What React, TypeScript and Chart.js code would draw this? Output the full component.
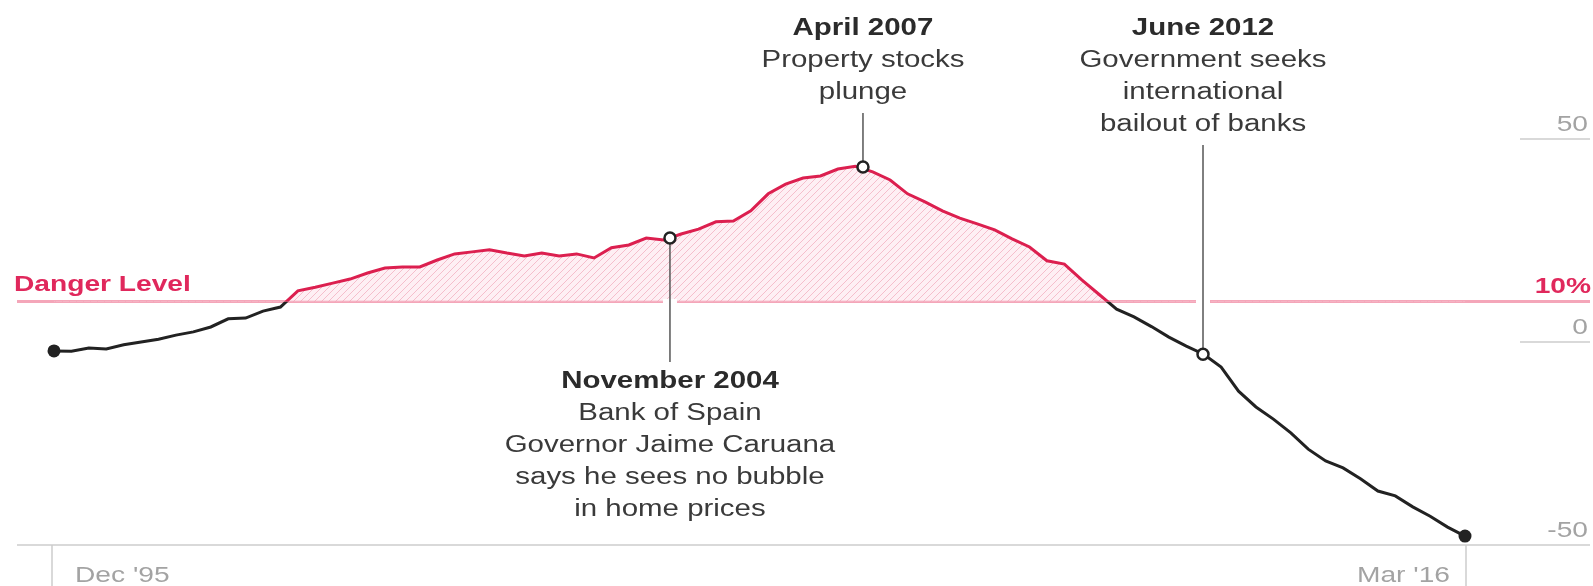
import React, { useEffect, useRef } from 'react';
import { Chart, registerables } from 'chart.js';

Chart.register(...registerables);

// ---- Data (quarterly, Dec '95 .. Mar '16), percent ----
const START_YEAR = 1995.917; // Dec 1995
const VALUES = [
  -2.2, -2.3, -1.5, -1.7, -0.7, 0, 0.7, 1.7, 2.5, 3.7,
  5.7, 5.9, 7.6, 8.6, 12.6, 13.5, 14.5, 15.5, 17.0, 18.2,
  18.5, 18.5, 20.2, 21.7, 22.2, 22.7, 21.9, 21.2, 21.9, 21.2,
  21.7, 20.7, 23.2, 23.9, 25.6, 25.1, 26.6, 27.8, 29.6, 29.8,
  32.3, 36.5, 38.9, 40.4, 40.9, 42.6, 43.3, 41.9, 39.9, 36.5,
  34.5, 32.3, 30.5, 29.1, 27.6, 25.4, 23.4, 20.0, 19.2, 15.3,
  11.7, 8.1, 6.2, 3.8, 1.2, -1.0, -3.0, -6.2, -12.1, -16.0,
  -19.0, -22.4, -26.4, -29.3, -31.0, -33.7, -36.7, -37.9, -40.6, -42.9,
  -45.6, -47.8,
];
const X_LABELS = ["Dec '95", "Mar '16"];
const Y_TICKS = [50, 0, -50];
const DANGER = 10;
const DANGER_LABEL = 'Danger Level';
const DANGER_TICK = '10%';

const EVENT_X = [2004.757, 2007.527, 2012.407];
const EVENT_Y = [25.6, 43.1, -3.0];
const EVENT_TITLES = ['November 2004', 'April 2007', 'June 2012'];
const EVENT_TEXT = [
  ['Bank of Spain', 'Governor Jaime Caruana', 'says he sees no bubble', 'in home prices'],
  ['Property stocks', 'plunge'],
  ['Government seeks', 'international', 'bailout of banks'],
];
const EVENT_BELOW = [true, false, false];

// ---- styles ----
const FONT = '"Liberation Sans", Arial, Helvetica, sans-serif';
const SX = 1.28;
const RED = '#dc1f4f';
const DARK = '#222222';
const PINK_LINE = '#f4a6b9';
const GRID = '#cccccc';
const AXIS_TXT = '#a3a3a3';

function txt(ctx: CanvasRenderingContext2D, s: string, x: number, y: number, align: CanvasTextAlign, font: string, color: string) {
  ctx.save();
  ctx.font = font;
  ctx.fillStyle = color;
  ctx.textAlign = align;
  ctx.textBaseline = 'alphabetic';
  ctx.translate(x, y);
  ctx.scale(SX, 1);
  ctx.fillText(s, 0, 0);
  ctx.restore();
}

function hline(ctx: CanvasRenderingContext2D, x1: number, x2: number, y: number, color: string, w: number) {
  ctx.save();
  ctx.strokeStyle = color;
  ctx.lineWidth = w;
  ctx.beginPath();
  ctx.moveTo(x1, y);
  ctx.lineTo(x2, y);
  ctx.stroke();
  ctx.restore();
}

function vline(ctx: CanvasRenderingContext2D, x: number, y1: number, y2: number, color: string, w: number) {
  ctx.save();
  ctx.strokeStyle = color;
  ctx.lineWidth = w;
  ctx.beginPath();
  ctx.moveTo(x, y1);
  ctx.lineTo(x, y2);
  ctx.stroke();
  ctx.restore();
}

const decorPlugin = {
  id: 'decor',
  beforeDatasetsDraw(chart: any) {
    const { ctx, scales } = chart;
    const xs = scales.x;
    const ys = scales.y;
    const W = chart.width;
    const H = chart.height;
    const xStart = xs.getPixelForValue(START_YEAR);
    const xEnd = xs.getPixelForValue(START_YEAR + (VALUES.length - 1) / 4);
    // bottom base line and right-side gridlines
    Y_TICKS.forEach((t, i) => {
      const py = ys.getPixelForValue(t);
      if (t === Y_TICKS[Y_TICKS.length - 1]) {
        hline(ctx, 17, W - 3, py, GRID, 1.5);
      } else {
        hline(ctx, W - 73, W - 3, py, GRID, 1.5);
      }
      txt(ctx, String(t), W - 5, py - 8, 'right', `22px ${FONT}`, AXIS_TXT);
    });
    // x ticks
    const yb = ys.getPixelForValue(Y_TICKS[Y_TICKS.length - 1]);
    vline(ctx, xStart - 2, yb, H, GRID, 1.5);
    vline(ctx, xEnd + 1, yb, H, GRID, 1.5);
    txt(ctx, X_LABELS[0], xStart + 21, H - 4, 'left', `22px ${FONT}`, AXIS_TXT);
    txt(ctx, X_LABELS[1], xEnd - 15, H - 4, 'right', `22px ${FONT}`, AXIS_TXT);
    // danger level
    const yd = ys.getPixelForValue(DANGER);
    hline(ctx, 17, W - 3, yd, PINK_LINE, 3);
    txt(ctx, DANGER_LABEL, 14, yd - 10, 'left', `bold 22px ${FONT}`, '#e0285c');
    txt(ctx, DANGER_TICK, W - 2, yd - 8, 'right', `bold 22px ${FONT}`, '#e0285c');
  },
  beforeDatasetDraw(chart: any, args: any) {
    const { ctx, scales } = chart;
    const yd = scales.y.getPixelForValue(DANGER);
    if (args.index === 0 || args.index === 1) {
      ctx.save();
      ctx.beginPath();
      if (args.index === 0) ctx.rect(0, 0, chart.width, yd);
      else ctx.rect(0, yd, chart.width, chart.height - yd);
      ctx.clip();
    } else if (args.index === 2) {
      const LH = 32;
      EVENT_X.forEach((ex, i) => {
        const px = scales.x.getPixelForValue(ex);
        const py = scales.y.getPixelForValue(EVENT_Y[i]);
        const lines = EVENT_TEXT[i];
        if (EVENT_BELOW[i]) {
          const titleBase = 388;
          // gap in danger line
          ctx.save();
          ctx.fillStyle = '#ffffff';
          ctx.fillRect(px - 7, yd - 2.5, 14, 5);
          ctx.restore();
          vline(ctx, px, py + 5, titleBase - 26, '#555555', 1.5);
          txt(ctx, EVENT_TITLES[i], px, titleBase, 'center', `bold 23px ${FONT}`, '#2b2b2b');
          lines.forEach((l, k) => txt(ctx, l, px, titleBase + LH * (k + 1), 'center', `23px ${FONT}`, '#3a3a3a'));
        } else {
          const titleBase = 35;
          const lastBase = titleBase + LH * lines.length;
          if (py > yd) {
            ctx.save();
            ctx.fillStyle = '#ffffff';
            ctx.fillRect(px - 7, yd - 2.5, 14, 5);
            ctx.restore();
          }
          vline(ctx, px, lastBase + 14, py - 5, '#555555', 1.5);
          txt(ctx, EVENT_TITLES[i], px, titleBase, 'center', `bold 23px ${FONT}`, '#2b2b2b');
          lines.forEach((l, k) => txt(ctx, l, px, titleBase + LH * (k + 1), 'center', `23px ${FONT}`, '#3a3a3a'));
        }
      });
    }
  },
  afterDatasetDraw(chart: any, args: any) {
    if (args.index === 0 || args.index === 1) chart.ctx.restore();
  },
};

export default function App() {
  const ref = useRef<HTMLCanvasElement | null>(null);

  useEffect(() => {
    const canvas = ref.current!;
    const c2d = canvas.getContext('2d')!;
    // hatched fill pattern
    const pc = document.createElement('canvas');
    pc.width = 7;
    pc.height = 7;
    const g = pc.getContext('2d')!;
    g.fillStyle = 'rgba(253,234,240,0.75)';
    g.fillRect(0, 0, 7, 7);
    g.strokeStyle = 'rgba(236,150,172,0.55)';
    g.lineWidth = 1;
    g.beginPath();
    g.moveTo(-1, 8); g.lineTo(8, -1);
    g.moveTo(-1, 1); g.lineTo(1, -1);
    g.moveTo(6, 8); g.lineTo(8, 6);
    g.stroke();
    const pattern = c2d.createPattern(pc, 'repeat')!;

    const points = VALUES.map((v, i) => ({ x: START_YEAR + i / 4, y: v }));
    const events = EVENT_X.map((x, i) => ({ x, y: EVENT_Y[i] }));
    const n = VALUES.length;

    const chart = new Chart(canvas, {
      type: 'line',
      data: {
        datasets: [
          {
            data: points,
            borderColor: RED,
            borderWidth: 3,
            pointRadius: 0,
            tension: 0,
            clip: false as any,
            fill: { target: { value: DANGER }, above: pattern as any, below: 'rgba(0,0,0,0)' },
            order: 1,
          } as any,
          {
            data: points,
            borderColor: DARK,
            borderWidth: 3,
            tension: 0,
            clip: false as any,
            fill: false,
            pointRadius: (c: any) => (c.dataIndex === 0 || c.dataIndex === n - 1 ? 6.5 : 0),
            pointBackgroundColor: DARK,
            pointBorderWidth: 0,
            order: 2,
          } as any,
          {
            data: events,
            showLine: false,
            pointRadius: 5.5,
            pointBackgroundColor: '#ffffff',
            pointBorderColor: DARK,
            pointBorderWidth: 2.5,
            clip: false as any,
            order: 0,
          } as any,
        ],
      },
      options: {
        animation: false,
        responsive: false,
        events: [],
        layout: { padding: { left: 54, right: 128, top: 139, bottom: 41 } },
        scales: {
          x: { type: 'linear', display: false, min: START_YEAR, max: START_YEAR + (n - 1) / 4 },
          y: { type: 'linear', display: false, min: -50, max: 50 },
        },
        plugins: {
          legend: { display: false },
          tooltip: { enabled: false },
        },
      },
      plugins: [decorPlugin as any],
    });
    return () => chart.destroy();
  }, []);

  return (
    <div style={{ position: 'absolute', left: 0, top: 0, width: 1593, height: 586, background: '#ffffff' }}>
      <canvas ref={ref} width={1593} height={586} style={{ display: 'block', width: 1593, height: 586 }} />
    </div>
  );
}
